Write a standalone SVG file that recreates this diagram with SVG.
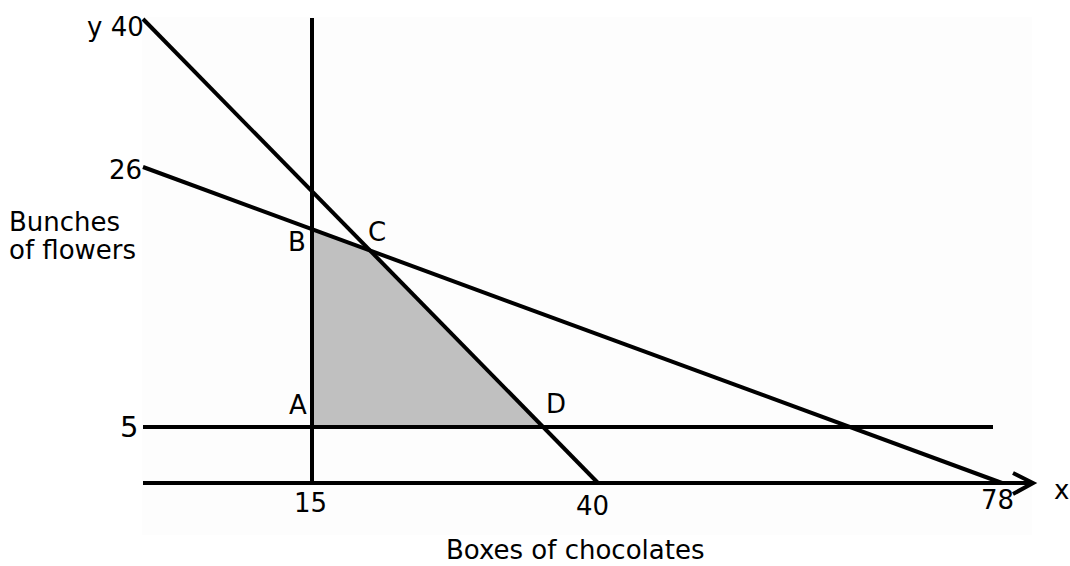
<svg xmlns="http://www.w3.org/2000/svg" width="1070" height="566" viewBox="0 0 1070 566">
<style>
text{font-family:"DejaVu Sans","Liberation Sans",sans-serif;font-size:26px;fill:#000}
.ln{stroke:#000;fill:none;stroke-width:4}
</style>
<rect width="1070" height="566" fill="#fff"/>
<rect x="142" y="17" width="890" height="518" fill="#fdfdfd"/>
<g id="region">
<polygon points="312,427 312,229.2 370,250.5 543,427" fill="#c0c0c0"/>
</g>
<g id="connectors">
<line class="ln" x1="143" y1="483" x2="1031" y2="483"/>
<polyline class="ln" points="1013,473 1033,483 1013,494"/>
<line class="ln" x1="312" y1="18" x2="312" y2="483"/>
<line class="ln" x1="143" y1="427" x2="993" y2="427"/>
<line class="ln" x1="143" y1="19" x2="598" y2="483" stroke-width="4.5"/>
<line class="ln" x1="143" y1="167" x2="1002" y2="483"/>
</g>
<g id="labels">
<text x="87" y="36">y 40</text>
<text x="109" y="179">26</text>
<text x="9" y="231">Bunches</text>
<text x="9" y="259">of flowers</text>
<text x="288" y="251">B</text>
<text x="368" y="241">C</text>
<text x="289" y="414">A</text>
<text x="546" y="413">D</text>
<text x="120" y="437" style="font-size:29px">5</text>
<text x="294" y="512">15</text>
<text x="576" y="515">40</text>
<text x="981" y="509">78</text>
<text x="1054" y="499">x</text>
<text x="446" y="559">Boxes of chocolates</text>
</g>
</svg>
